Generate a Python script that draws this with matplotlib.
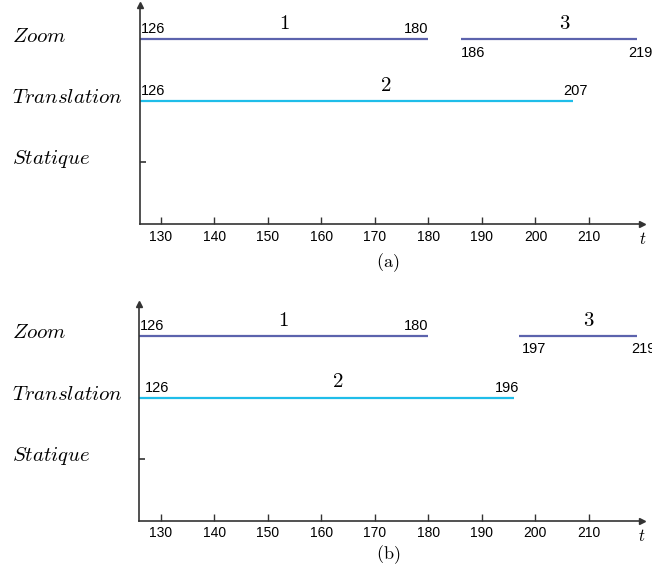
import matplotlib
matplotlib.use('Agg')
import matplotlib.pyplot as plt

plt.rcParams['mathtext.fontset'] = 'cm'
plt.rcParams['font.family'] = ['Liberation Sans', 'DejaVu Sans']

# categories (y levels)
CATS = ['Statique', 'Translation', 'Zoom']
XTICKS = [130, 140, 150, 160, 170, 180, 190, 200, 210]

# segments per panel: (category, start, end, number)
SEG_A = [('Zoom', 126, 180, '1'), ('Translation', 126, 207, '2'), ('Zoom', 186, 219, '3')]
SEG_B = [('Zoom', 126, 180, '1'), ('Translation', 126, 196, '2'), ('Zoom', 197, 219, '3')]

COLORS = {'Zoom': '#5c63ad', 'Translation': '#1fbde9'}
AXC = '#333333'


def draw_panel(ax, segs, ytop, numx, lbl_style):
    ax.set_xlim(126, 220)
    ax.set_ylim(0, ytop)
    for s in ['top', 'right']:
        ax.spines[s].set_visible(False)
    for s in ['left', 'bottom']:
        ax.spines[s].set_color(AXC)
        ax.spines[s].set_linewidth(1.2)
    ax.plot(1, 0, '>', color=AXC, ms=5, transform=ax.get_yaxis_transform(), clip_on=False)
    ax.plot(0, 1, '^', color=AXC, ms=4, transform=ax.transAxes, clip_on=False)
    ax.set_xticks(XTICKS)
    ax.set_xticklabels([str(v) for v in XTICKS], fontsize=10)
    ax.tick_params(axis='x', direction='in', length=5, width=1.0, color=AXC, pad=4)
    ax.set_yticks([1, 2, 3])
    ax.set_yticklabels([])
    ax.tick_params(axis='y', direction='in', length=4, width=1.2, color=AXC)
    for i, c in enumerate(CATS):
        ax.text(-0.253, i + 1.05, r'$\mathit{%s}$' % c, transform=ax.get_yaxis_transform(),
                fontsize=15, ha='left', va='center')
    ax.text(1.0, -0.07, r'$t$', transform=ax.transAxes, fontsize=12, ha='center', va='center')
    for k, (cat, x0, x1, num) in enumerate(segs):
        y = CATS.index(cat) + 1
        ax.plot([x0, x1], [y, y], color=COLORS[cat], lw=1.6, solid_capstyle='butt', clip_on=False)
        ax.text(numx[k], y + 0.1, r'$%s$' % num, fontsize=15, ha='center', va='bottom')
        st0, st1 = lbl_style[k]
        for val, (ha, pos, dx) in zip((x0, x1), (st0, st1)):
            if pos == 'above':
                ax.text(val + dx, y + 0.05, str(val), fontsize=10.5, ha=ha, va='bottom', clip_on=False)
            else:
                ax.text(val + dx, y - 0.1, str(val), fontsize=10.5, ha=ha, va='top', clip_on=False)


fig = plt.figure(figsize=(6.52, 5.77), dpi=100)
ax1 = fig.add_axes([0.2141, 0.6118, 0.7713, 0.3795])
ax2 = fig.add_axes([0.2136, 0.0976, 0.7713, 0.3755])

draw_panel(ax1, SEG_A, 3.56, [153, 172, 205.5],
           [(('left', 'above', 0.3), ('right', 'above', 0)),
            (('left', 'above', 0.3), ('center', 'above', 0.5)),
            (('left', 'below', 0), ('center', 'below', 0.7))])
draw_panel(ax2, SEG_B, 3.52, [153, 163, 210],
           [(('left', 'above', 0.2), ('right', 'above', 0)),
            (('left', 'above', 1.0), ('center', 'above', -1.3)),
            (('left', 'below', 0.5), ('left', 'below', -1.0))])

fig.text(388 / 652, 1 - 263 / 577, r'$\mathrm{(a)}$', fontsize=13, ha='center', va='center')
fig.text(388 / 652, 1 - 555 / 577, r'$\mathrm{(b)}$', fontsize=13, ha='center', va='center')

fig.savefig('out.png', dpi=100)
